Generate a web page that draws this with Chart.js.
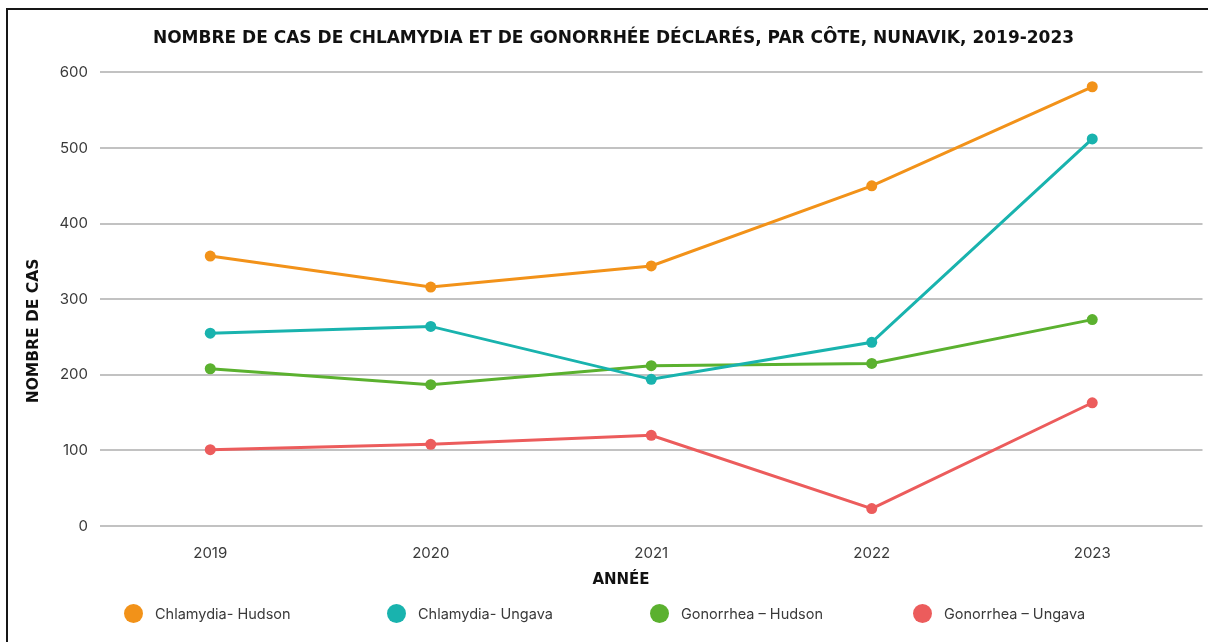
<!DOCTYPE html>
<html lang="fr">
<head>
<meta charset="utf-8">
<title>Chlamydia et gonorrhée, Nunavik</title>
<script src="https://cdn.jsdelivr.net/npm/chart.js@4.4.0/dist/chart.umd.min.js"></script>
<style>
    html, body { margin: 0; padding: 0; background: #fff; }
    .wrap { position: relative; width: 1208px; height: 642px; overflow: hidden; }
    .frame {
        position: absolute; left: 6px; top: 8px; right: -4px; bottom: -4px;
        border-left: 2px solid #161616; border-top: 2px solid #161616;
        pointer-events: none;
    }
    canvas { position: absolute; left: 0; top: 0; }
    .legend {
        position: absolute; left: 124px; top: 604px; display: flex;
        font-family: Inter, "Noto Sans", sans-serif; font-size: 14.5px; color: #3a3a3a;
    }
    .legend-item { width: 263px; display: flex; align-items: center; }
    .legend-dot { width: 19px; height: 19px; border-radius: 50%; margin-right: 12px; }
</style>
</head>
<body>
<div class="wrap">
    <canvas id="chart" width="1208" height="642"></canvas>
    <div class="frame"></div>
    <div class="legend" id="legend"></div>
</div>
<script>
// ===================================
// Data
// ===================================
const years = ['2019', '2020', '2021', '2022', '2023'];

const chlamydiaHudson = [357, 316, 344, 450, 581];
const chlamydiaUngava = [255, 264, 194, 243, 512];
const gonorrheaHudson = [208, 187, 212, 215, 273];
const gonorrheaUngava = [101, 108, 120, 23, 163];

const seriesLabels = ['Chlamydia- Hudson', 'Chlamydia- Ungava', 'Gonorrhea – Hudson', 'Gonorrhea – Ungava'];
const seriesColors = ['#F29219', '#19B3AE', '#5BB12F', '#EC5C5C'];

const yTicks = [0, 100, 200, 300, 400, 500, 600];

const FONT = 'Inter, "Noto Sans", sans-serif';
const BOLD_FONT = '"DejaVu Sans", Inter, sans-serif';

// Axis titles are placed by hand, the original is not centred on the plot area
const axisTitles = {
    id: 'axisTitles',
    afterDraw(chart) {
        const ctx = chart.ctx;
        ctx.save();
        ctx.fillStyle = '#111';
        ctx.font = 'bold 15px ' + BOLD_FONT;
        ctx.textAlign = 'center';
        ctx.textBaseline = 'middle';
        ctx.fillText('ANNÉE', 621, 580);

        ctx.translate(34, 331);
        ctx.rotate(-Math.PI / 2);
        ctx.font = 'bold 15.5px ' + BOLD_FONT;
        ctx.fillText('NOMBRE DE CAS', 0, 0);
        ctx.restore();
    }
};

const datasets = [chlamydiaHudson, chlamydiaUngava, gonorrheaHudson, gonorrheaUngava].map((values, i) => ({
    label: seriesLabels[i],
    data: values,
    borderColor: seriesColors[i],
    backgroundColor: seriesColors[i],
    borderWidth: 3,
    pointRadius: 5.5,
    pointBorderWidth: 0,
    pointBackgroundColor: seriesColors[i],
    tension: 0
}));

new Chart(document.getElementById('chart'), {
    type: 'line',
    data: { labels: years, datasets: datasets },
    options: {
        responsive: false,
        animation: false,
        layout: { padding: { left: 22, right: 3, top: 18, bottom: 0 } },
        scales: {
            x: {
                offset: true,
                grid: { display: false },
                border: { display: false },
                ticks: { color: '#3a3a3a', padding: 10, font: { family: FONT, size: 15 } },
                afterFit(scale) { scale.height = 116; }
            },
            y: {
                min: 0,
                max: 600,
                afterBuildTicks(scale) { scale.ticks = yTicks.map(v => ({ value: v })); },
                grid: { color: '#c2c2c2', lineWidth: 2, drawTicks: false },
                border: { display: false },
                ticks: { color: '#3a3a3a', padding: 12, font: { family: FONT, size: 15 } },
                afterFit(scale) { scale.width = 78; }
            }
        },
        plugins: {
            legend: { display: false },
            tooltip: { enabled: false },
            title: {
                display: true,
                text: 'NOMBRE DE CAS DE CHLAMYDIA ET DE GONORRHÉE DÉCLARÉS, PAR CÔTE, NUNAVIK, 2019-2023',
                color: '#111',
                font: { family: BOLD_FONT, size: 17, weight: 'bold' },
                padding: { top: 10, bottom: 24 }
            }
        }
    },
    plugins: [axisTitles]
});

// HTML legend, fixed columns like the original
document.getElementById('legend').innerHTML = seriesLabels.map((label, i) => `
    <div class="legend-item">
        <span class="legend-dot" style="background:${seriesColors[i]}"></span>
        <span>${label}</span>
    </div>
`).join('');
</script>
</body>
</html>
